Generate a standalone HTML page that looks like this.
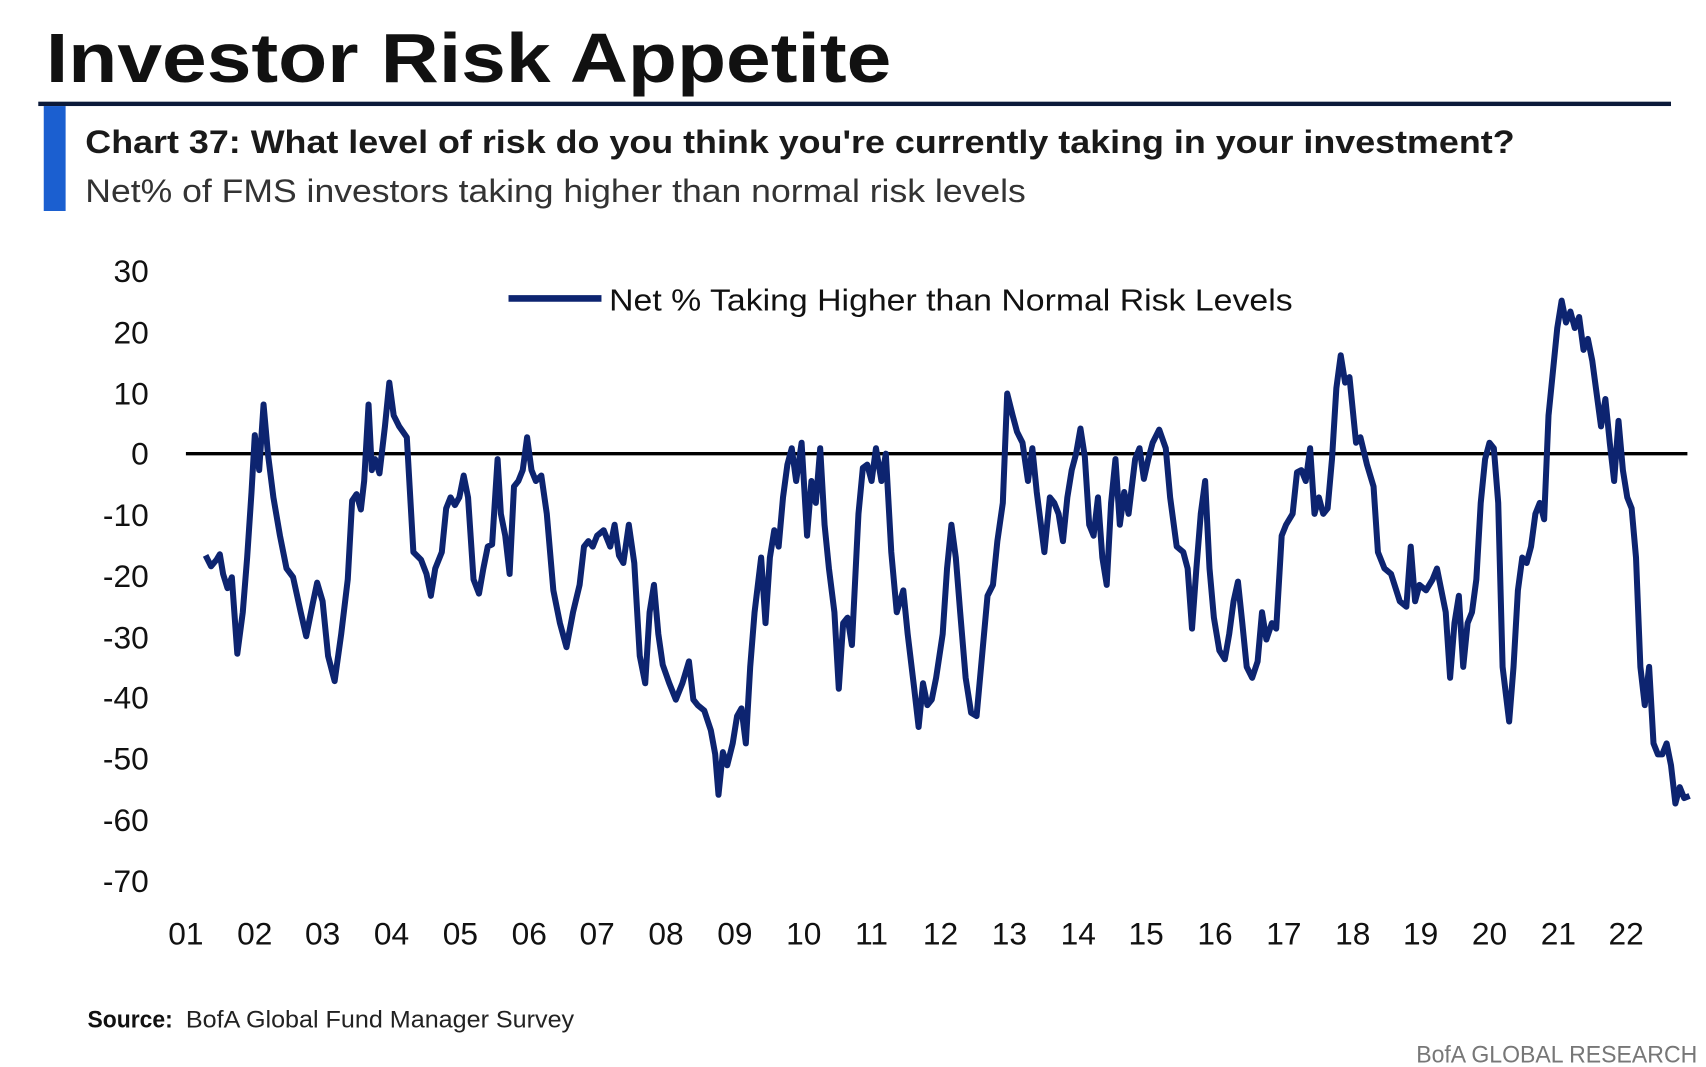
<!DOCTYPE html>
<html><head><meta charset="utf-8"><style>html,body{margin:0;padding:0;background:#fff;}svg{display:block}</style></head>
<body>
<svg width="1706" height="1067" viewBox="0 0 1560 976" preserveAspectRatio="none" xmlns="http://www.w3.org/2000/svg" font-family="'Liberation Sans Narrow','Liberation Sans',sans-serif">
<rect width="1560" height="976" fill="#fff"/>
<text x="42" y="75" font-size="64" font-weight="bold" fill="#111" textLength="773" lengthAdjust="spacingAndGlyphs">Investor Risk Appetite</text>
<rect x="35" y="93" width="1493" height="4" fill="#0b1a3a"/>
<rect x="40" y="97" width="20" height="96" fill="#1b5fd0"/>
<text x="78" y="140" font-size="30" font-weight="bold" fill="#1a1a1a" textLength="1307" lengthAdjust="spacingAndGlyphs">Chart 37: What level of risk do you think you're currently taking in your investment?</text>
<text x="78" y="185" font-size="30" fill="#333" textLength="860" lengthAdjust="spacingAndGlyphs">Net% of FMS investors taking higher than normal risk levels</text>
<g font-size="29" fill="#111" text-anchor="end">
<text x="136" y="258">30</text><text x="136" y="314">20</text><text x="136" y="370">10</text><text x="136" y="425">0</text><text x="136" y="481">-10</text><text x="136" y="537">-20</text><text x="136" y="593">-30</text><text x="136" y="648">-40</text><text x="136" y="704">-50</text><text x="136" y="760">-60</text><text x="136" y="816">-70</text>
</g>
<g font-size="29" fill="#111" text-anchor="middle">
<text x="170" y="864">01</text><text x="233" y="864">02</text><text x="295" y="864">03</text><text x="358" y="864">04</text><text x="421" y="864">05</text><text x="484" y="864">06</text><text x="546" y="864">07</text><text x="609" y="864">08</text><text x="672" y="864">09</text><text x="735" y="864">10</text><text x="797" y="864">11</text><text x="860" y="864">12</text><text x="923" y="864">13</text><text x="986" y="864">14</text><text x="1048" y="864">15</text><text x="1111" y="864">16</text><text x="1174" y="864">17</text><text x="1237" y="864">18</text><text x="1299" y="864">19</text><text x="1362" y="864">20</text><text x="1425" y="864">21</text><text x="1487" y="864">22</text>
</g>
<line x1="170" y1="415" x2="1543" y2="415" stroke="#000" stroke-width="3"/>
<line x1="465" y1="273" x2="550" y2="273" stroke="#0d2470" stroke-width="6"/>
<text x="557" y="284" font-size="28" fill="#111" textLength="625" lengthAdjust="spacingAndGlyphs">Net % Taking Higher than Normal Risk Levels</text>
<polyline fill="none" stroke="#0d2470" stroke-width="5.5" stroke-linejoin="round" points="188,508 193,518 198,512 201,507 204,525 208,538 212,528 217,598 222,560 226,510 230,450 233,398 237,430 241,370 245,415 250,455 256,490 262,520 268,528 275,560 280,582 286,552 290,533 295,550 300,600 306,623 312,580 318,530 322,458 326,452 330,466 333,440 337,370 340,430 343,420 347,433 352,390 356,350 360,380 365,390 372,400 378,505 385,512 390,525 394,545 398,520 404,505 408,465 412,455 416,462 420,455 424,435 428,455 433,530 438,543 442,520 446,500 450,498 455,420 458,470 462,490 466,525 470,445 474,440 478,430 482,400 486,430 490,440 495,435 500,470 506,540 512,570 518,592 524,560 530,535 534,500 538,495 542,500 546,490 552,485 558,500 562,480 566,508 570,515 575,480 580,515 585,600 590,625 594,560 598,535 602,580 606,608 612,625 618,640 624,625 630,605 634,640 638,645 644,650 650,668 654,690 657,727 661,688 665,700 670,680 674,655 678,648 682,680 686,610 690,560 696,510 700,570 704,510 708,485 712,500 716,455 720,425 724,410 728,440 733,405 738,490 742,440 746,460 750,410 754,480 758,520 763,560 767,630 771,570 775,565 779,590 785,470 789,428 793,425 797,440 801,410 806,440 810,415 815,505 820,560 826,540 830,580 836,630 840,665 844,625 848,645 852,640 856,620 862,580 866,520 870,480 874,510 878,560 883,620 888,652 893,655 898,600 903,545 908,535 912,495 917,460 921,360 926,380 930,395 935,405 940,440 944,410 948,450 955,505 960,455 964,460 968,470 972,495 976,455 980,430 984,415 988,392 992,418 996,480 1000,490 1004,455 1008,510 1012,535 1016,460 1020,420 1024,480 1028,450 1032,470 1038,420 1042,410 1046,438 1050,420 1054,405 1060,393 1066,410 1070,455 1076,500 1082,505 1086,520 1090,575 1094,520 1098,470 1102,440 1106,520 1110,565 1115,595 1120,603 1124,580 1128,550 1132,532 1136,570 1140,610 1145,620 1150,605 1154,560 1158,585 1163,570 1167,575 1172,490 1176,480 1182,470 1186,432 1190,430 1194,440 1198,410 1202,470 1206,455 1210,470 1214,465 1218,420 1222,355 1226,325 1230,350 1234,345 1240,405 1244,400 1250,425 1256,445 1260,505 1266,520 1272,525 1280,550 1286,555 1290,500 1294,550 1298,535 1304,540 1310,530 1314,520 1318,540 1322,560 1326,620 1330,570 1334,545 1338,610 1342,570 1346,560 1350,530 1354,460 1358,420 1362,405 1366,410 1370,460 1374,610 1380,660 1384,610 1388,540 1392,510 1396,515 1400,500 1404,470 1408,460 1412,475 1416,380 1420,340 1424,300 1428,275 1432,295 1436,285 1440,300 1444,290 1448,320 1452,310 1456,330 1460,360 1464,390 1468,365 1472,405 1476,440 1480,385 1484,430 1488,455 1492,465 1496,510 1500,610 1504,645 1508,610 1512,680 1516,690 1520,690 1524,680 1528,700 1532,735 1536,720 1540,730 1545,728"/>
<text x="80" y="940" font-size="22" font-weight="bold" fill="#111" textLength="78" lengthAdjust="spacingAndGlyphs">Source:</text>
<text x="170" y="940" font-size="22" fill="#222" textLength="355" lengthAdjust="spacingAndGlyphs">BofA Global Fund Manager Survey</text>
<text x="1552" y="972" font-size="22" fill="#777" text-anchor="end" textLength="257" lengthAdjust="spacingAndGlyphs">BofA GLOBAL RESEARCH</text>
</svg>
</body></html>
